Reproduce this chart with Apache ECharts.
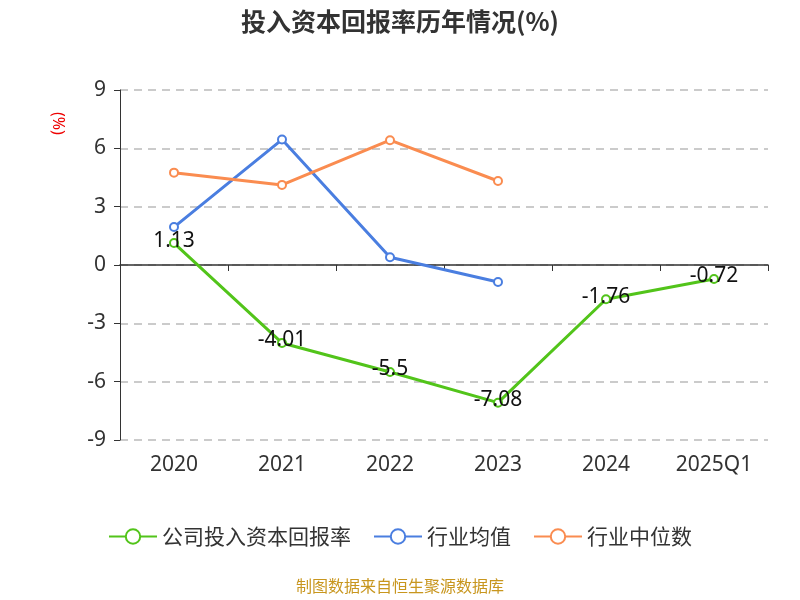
<!DOCTYPE html><html><head><meta charset="utf-8"><script src="https://cdn.jsdelivr.net/npm/echarts@6/dist/echarts.min.js"></script></head><body style="margin:0"><div id="c" style="width:800px;height:600px"></div><script>
const categories=['2020','2021','2022','2023','2024','2025Q1'];
const company=[1.13,-4.01,-5.5,-7.08,-1.76,-0.72];
const industryAvg=[1.95,6.45,0.4,-0.87,null,null];
const industryMed=[4.75,4.12,6.42,4.32,null,null];
const yTicks=[-9,-6,-3,0,3,6,9];
const c=echarts.init(document.getElementById('c'));
const ser=(name,data,color,label)=>({name,type:'line',data,xAxisIndex:0,symbol:'emptyCircle',symbolSize:8,connectNulls:false,
 itemStyle:{color},lineStyle:{color,width:3},
 label:label?{show:true,position:'top',offset:[0,18],color:'#111',fontSize:21,fontFamily:'Noto Sans'}:{show:false}});
c.setOption({
 animation:false,
 title:{text:'投入资本回报率历年情况(%)',left:'center',top:4,textStyle:{fontSize:25,fontWeight:'bold',color:'#333',fontFamily:'Noto Sans CJK SC'}},
 graphic:[{type:'text',left:50,top:112,rotation:-Math.PI/2,style:{text:'(%)',fill:'#e00',fontSize:16,fontFamily:'Noto Sans'}},
  {type:'text',left:'center',top:578,style:{text:'制图数据来自恒生聚源数据库',fill:'#c8961e',fontSize:16,fontFamily:'Noto Sans CJK SC'}}],
 legend:{bottom:48,itemWidth:48,itemHeight:18,itemGap:22,textStyle:{fontSize:21,color:'#333',fontFamily:'Noto Sans CJK SC'},
  data:['公司投入资本回报率','行业均值','行业中位数']},
 grid:{left:120,right:32,top:90,bottom:160},
 xAxis:[{type:'category',data:categories,axisLine:{onZero:true,lineStyle:{color:'#333',width:1.5}},axisTick:{show:true,length:6,lineStyle:{color:'#333'}},axisLabel:{show:false}},
  {type:'category',data:categories,position:'bottom',axisLine:{show:false,onZero:false},axisTick:{show:false},axisLabel:{fontSize:21,color:'#333',margin:15,fontFamily:'Noto Sans'}}],
 yAxis:{type:'value',min:yTicks[0],max:yTicks[yTicks.length-1],interval:3,
  axisLine:{show:true,lineStyle:{color:'#333'}},axisTick:{show:true,length:6},
  axisLabel:{fontSize:21,color:'#333',fontFamily:'Noto Sans',margin:14},
  splitLine:{lineStyle:{type:[8,6],color:'#bbb',width:1.5}}},
 series:[ser('公司投入资本回报率',company,'#52c41a',true),ser('行业均值',industryAvg,'#4a7ee0',false),ser('行业中位数',industryMed,'#fa8c50',false),
  {type:'line',xAxisIndex:1,data:[],silent:true}]
});
</script></body></html>
